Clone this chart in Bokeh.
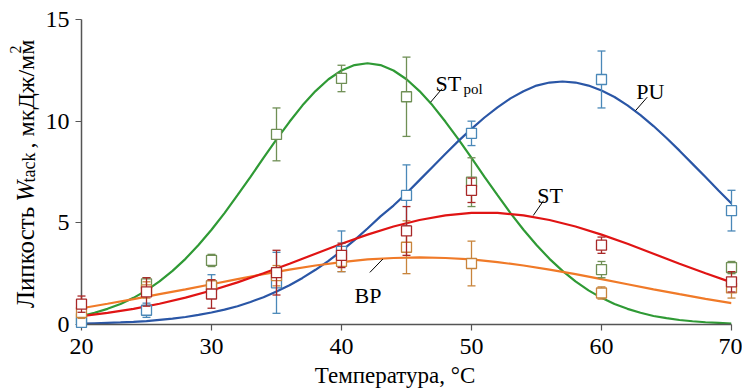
from math import pi

from bokeh.plotting import figure
from bokeh.core.properties import value
from bokeh.models import ColumnDataSource, Label, Range1d, FixedTicker
from bokeh.embed import file_html
from bokeh.resources import INLINE

# --- measured points (temperature, °C) ---
temps = [20, 25, 30, 35, 40, 45, 50, 60, 70]

stpol_val = [0.3, 2.0, 3.15, 9.35, 12.1, 11.2, 7.0, 2.7, 2.8]
stpol_err = [0.3, 0.3, 0.3, 1.3, 0.65, 1.95, 1.2, 0.4, 0.3]

pu_val = [0.1, 0.7, 1.9, 2.05, 3.6, 6.35, 9.4, 12.05, 5.6]
pu_err = [0.1, 0.35, 0.55, 1.5, 1.0, 1.5, 0.6, 1.4, 1.0]

st_val = [1.0, 1.6, 1.5, 2.55, 3.4, 4.6, 6.6, 3.9, 2.1]
st_err = [0.4, 0.7, 0.7, 1.1, 0.6, 1.2, 0.6, 0.4, 0.5]

bp_val = [0.6, 1.7, 1.9, 2.4, 3.1, 3.8, 3.0, 1.55, 1.8]
bp_err = [0.3, 0.4, 0.3, 0.5, 0.5, 1.3, 1.1, 0.3, 0.5]

# --- fitted curves ---
fine_t = list(range(20, 71))          # every 1 °C
stpol_fit = [0.42, 0.58, 0.77, 1.01, 1.31, 1.68, 2.12, 2.64, 3.23, 3.91, 4.66,
             5.48, 6.36, 7.26, 8.19, 9.10, 9.97, 10.78, 11.48, 12.06, 12.49,
             12.76, 12.85, 12.76, 12.49, 12.06, 11.48, 10.78, 9.97, 9.10, 8.19,
             7.26, 6.36, 5.48, 4.66, 3.91, 3.23, 2.64, 2.12, 1.68, 1.31,
             1.01, 0.77, 0.58, 0.42, 0.31, 0.22, 0.16, 0.11, 0.08, 0.05]
pu_fit = [0.04, 0.06, 0.08, 0.10, 0.13, 0.17, 0.23, 0.29, 0.37, 0.47, 0.59,
          0.73, 0.90, 1.11, 1.34, 1.62, 1.93, 2.29, 2.69, 3.13, 3.62,
          4.15, 4.72, 5.32, 5.85, 6.45, 7.10, 7.75, 8.40, 9.03, 9.62,
          10.18, 10.68, 11.12, 11.47, 11.75, 11.90, 11.95, 11.90, 11.75, 11.51,
          11.19, 10.78, 10.30, 9.76, 9.17, 8.55, 7.90, 7.25, 6.59, 5.95]

coarse_t = [20, 22, 24, 26, 28, 30, 32, 34, 36, 38, 40, 42, 44,
            46, 48, 50, 52, 54, 56, 58, 60, 62, 64, 66, 68, 70]   # every 2 °C
st_fit = [0.41, 0.57, 0.77, 1.02, 1.32, 1.67, 2.07, 2.52, 2.99, 3.48, 3.97, 4.42, 4.82,
          5.14, 5.37, 5.49, 5.49, 5.37, 5.14, 4.82, 4.42, 3.97, 3.48, 2.99, 2.52, 2.07]
bp_fit = [0.8, 1.02, 1.25, 1.49, 1.73, 1.98, 2.23, 2.48, 2.70, 2.90, 3.07, 3.20, 3.27,
          3.30, 3.27, 3.20, 3.07, 2.90, 2.70, 2.48, 2.23, 1.98, 1.73, 1.49, 1.26, 1.05]

x_ticks = [20, 30, 40, 50, 60, 70]
y_ticks = [0, 5, 10, 15]

SERIF = "Liberation Serif"

p = figure(width=742, height=390, output_backend="svg", toolbar_location=None,
           x_range=Range1d(20, 70), y_range=Range1d(0, 15),
           min_border_left=81, min_border_right=11, min_border_top=19, min_border_bottom=66)
p.outline_line_color = None
p.grid.grid_line_color = None

p.xaxis.ticker = FixedTicker(ticks=x_ticks)
p.yaxis.ticker = FixedTicker(ticks=y_ticks)
p.axis.axis_line_color = "#555555"
p.axis.axis_line_width = 1.5
p.axis.major_tick_line_color = "#555555"
p.axis.major_tick_line_width = 1.2
p.axis.major_tick_out = 6
p.axis.major_tick_in = 0
p.axis.minor_tick_line_color = None
p.axis.major_label_text_font = SERIF
p.axis.major_label_text_font_size = "24px"
p.axis.major_label_text_color = "black"
p.xaxis.major_label_standoff = 8
p.yaxis.major_label_standoff = 6

series = [
    (stpol_val, stpol_err, fine_t, stpol_fit, "#2f9a35", "#6f8f55"),
    (pu_val, pu_err, fine_t, pu_fit, "#2a56a6", "#4a88b8"),
    (bp_val, bp_err, coarse_t, bp_fit, "#f07a28", "#c8843c"),
    (st_val, st_err, coarse_t, st_fit, "#e01414", "#a82828"),
]

# fitted curves
for vals, errs, ct, fit, line_col, mark_col in series:
    p.line(ct, fit, line_color=line_col, line_width=2.2)

# error bars and open square markers, drawn on the overlay level so that
# points sitting on the frame edge are not cut off
for vals, errs, ct, fit, line_col, mark_col in series:
    src = ColumnDataSource(dict(
        t=temps, v=vals,
        lo=[v - e for v, e in zip(vals, errs)],
        hi=[v + e for v, e in zip(vals, errs)],
    ))
    p.segment(x0="t", y0="lo", x1="t", y1="hi", source=src,
              line_color=mark_col, line_width=1.3, level="overlay")
    for end in ("lo", "hi"):
        p.scatter("t", end, source=src, marker="dash", size=8,
                  line_color=mark_col, line_width=1.3, level="overlay")
    p.scatter("t", "v", source=src, marker="square", size=10,
              fill_color="white", line_color=mark_col, line_width=1.3, level="overlay")

# curve labels with leader lines
def tag(x, y, text, size="22px"):
    p.add_layout(Label(x=x, y=y, text=text, text_font=SERIF, text_font_size=size,
                       text_color="black", text_baseline="alphabetic", text_align="left"))

tag(47.23, 11.83, "ST")
tag(49.38, 11.6, "pol", "15px")
p.line([47.74, 46.85], [11.6, 10.93], line_color="black", line_width=1)

tag(62.67, 11.44, "PU")
p.line([63.52, 62.62], [11.18, 10.52], line_color="black", line_width=1)

tag(55.05, 6.34, "ST")
p.line([55.54, 54.75], [6.09, 5.36], line_color="black", line_width=1)

tag(41.0, 1.41, "BP")
p.line([42.18, 43.18], [2.56, 3.22], line_color="black", line_width=1)

# axis titles drawn as text outside the frame
def otext(x, y, text, size="25px", style="normal", angle=0.0, align="left"):
    p.text(x=[x], y=[y], text=[text], angle=angle,
           text_font=value(SERIF), text_font_size=value(size),
           text_font_style=value(style), text_color="black",
           text_baseline="alphabetic", text_align=align, level="overlay")

otext(44.12, -2.52, "Температура, °C", size="23px", align="center")

otext(15.72, 0.81, "Липкость", angle=pi / 2)
otext(15.72, 6.04, "W", style="italic", angle=pi / 2)
otext(15.95, 6.98, "tack", size="18px", angle=pi / 2)
otext(15.72, 8.66, ", мкДж/мм", size="24px", angle=pi / 2)
otext(14.95, 13.33, "2", size="16px", angle=pi / 2)

open("out.html", "w").write(file_html(p, INLINE))
